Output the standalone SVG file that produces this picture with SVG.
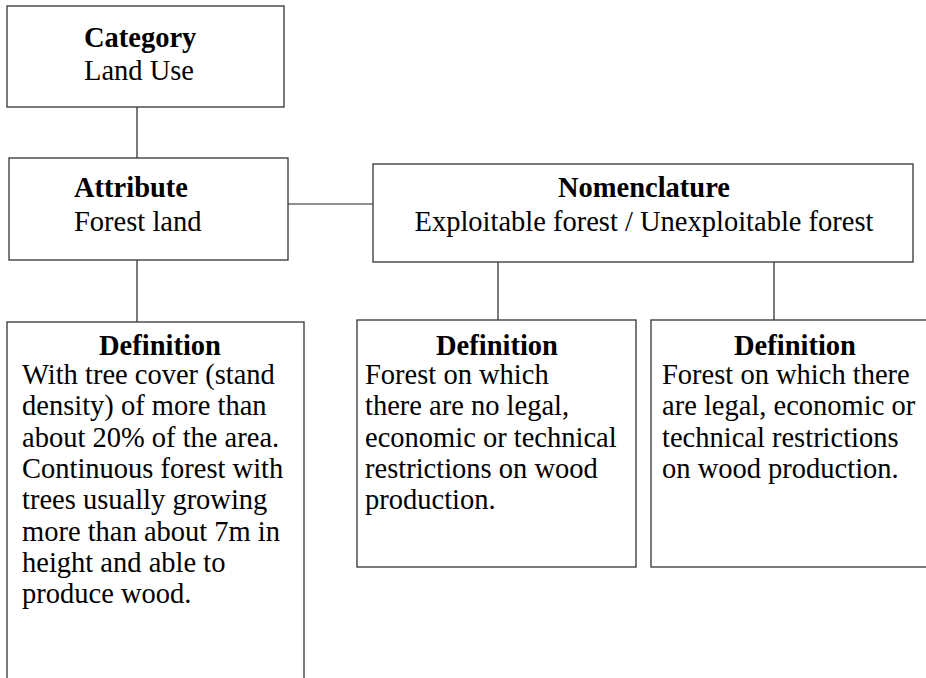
<svg xmlns="http://www.w3.org/2000/svg" width="926" height="678" viewBox="0 0 926 678">
<style>
.box{fill:#fff;stroke:#333;stroke-width:1.3}
.ln{stroke:#222;stroke-width:1.2;fill:none}
text{font-family:"Liberation Serif","Times New Roman",serif;font-size:28.5px;fill:#000}
.b{font-weight:bold}
.c{text-anchor:middle}
</style>
<rect width="926" height="678" fill="#fff"/>
<g id="connectors">
<line class="ln" x1="137" y1="107" x2="137" y2="158"/>
<line class="ln" x1="137" y1="260" x2="137" y2="322"/>
<line class="ln" x1="288" y1="204" x2="373" y2="204"/>
<line class="ln" x1="498" y1="262" x2="498" y2="320"/>
<line class="ln" x1="774" y1="262" x2="774" y2="320"/>
</g>
<g id="category">
<rect class="box" x="7" y="6" width="277" height="101"/>
<text class="b" x="84" y="47">Category</text>
<text x="84" y="80">Land Use</text>
</g>
<g id="attribute">
<rect class="box" x="9" y="158" width="279" height="102"/>
<text class="b" x="74" y="197">Attribute</text>
<text x="74" y="231">Forest land</text>
</g>
<g id="nomenclature">
<rect class="box" x="373" y="164" width="540" height="98"/>
<text class="b c" x="644" y="197">Nomenclature</text>
<text class="c" x="644" y="231">Exploitable forest / Unexploitable forest</text>
</g>
<g id="def-forest-land">
<rect class="box" x="7" y="322" width="297" height="400"/>
<text class="b c" x="160" y="355">Definition</text>
<text x="22" y="384">With tree cover (stand</text>
<text x="22" y="415.3">density) of more than</text>
<text x="22" y="446.6">about 20% of the area.</text>
<text x="22" y="477.9">Continuous forest with</text>
<text x="22" y="509.2">trees usually growing</text>
<text x="22" y="540.5">more than about 7m in</text>
<text x="22" y="571.8">height and able to</text>
<text x="22" y="603.1">produce wood.</text>
</g>
<g id="def-exploitable">
<rect class="box" x="357" y="320" width="279" height="247"/>
<text class="b c" x="497" y="355">Definition</text>
<text x="365" y="384">Forest on which</text>
<text x="365" y="415.3">there are no legal,</text>
<text x="365" y="446.6">economic or technical</text>
<text x="365" y="477.9">restrictions on wood</text>
<text x="365" y="509.2">production.</text>
</g>
<g id="def-unexploitable">
<rect class="box" x="651" y="320" width="300" height="247"/>
<text class="b c" x="795" y="355">Definition</text>
<text x="662" y="384">Forest on which there</text>
<text x="662" y="415.3">are legal, economic or</text>
<text x="662" y="446.6">technical restrictions</text>
<text x="662" y="477.9">on wood production.</text>
</g>
</svg>
